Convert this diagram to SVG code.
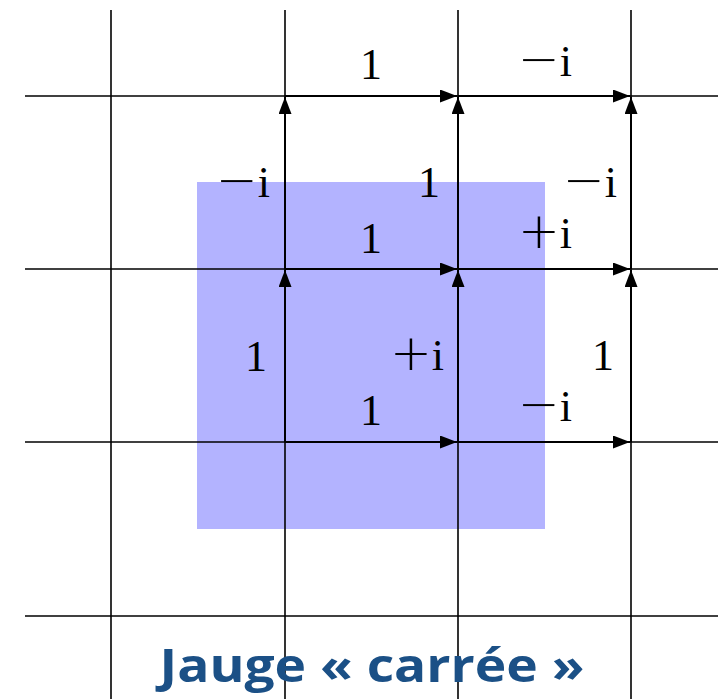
<svg xmlns="http://www.w3.org/2000/svg" width="725" height="699" viewBox="0 0 725 699">
<style>
.grid{stroke:#000;stroke-width:1.6;fill:none}
.arr{stroke:#000;stroke-width:2;fill:none;marker-end:url(#ah)}
.lbl{font-family:"Liberation Serif","DejaVu Serif",serif;font-size:44px;fill:#000;text-anchor:middle}
.op{font-family:"DejaVu Sans",sans-serif;font-size:50px;font-weight:200}
.title{font-family:"Open Sans","Noto Sans",sans-serif;font-weight:bold;font-size:47px;fill:#1b5086;text-anchor:middle}
</style>
<defs>
<marker id="ah" markerUnits="userSpaceOnUse" markerWidth="18" markerHeight="14" refX="17" refY="6.5" orient="auto">
<path d="M0,0 L17,6.5 L0,13 z" fill="#000"/>
</marker>
</defs>
<rect id="square" x="197" y="182" width="348" height="347" fill="#b3b3ff"/>
<g id="grid">
<line class="grid" x1="111" y1="10" x2="111" y2="699"/>
<line class="grid" x1="285" y1="10" x2="285" y2="699"/>
<line class="grid" x1="458" y1="10" x2="458" y2="699"/>
<line class="grid" x1="631" y1="10" x2="631" y2="699"/>
<line class="grid" x1="25" y1="96" x2="718" y2="96"/>
<line class="grid" x1="25" y1="269" x2="718" y2="269"/>
<line class="grid" x1="25" y1="442" x2="718" y2="442"/>
<line class="grid" x1="25" y1="616" x2="718" y2="616"/>
</g>
<g id="connectors">
<line class="arr" x1="285" y1="96" x2="457" y2="96"/>
<line class="arr" x1="458" y1="96" x2="630" y2="96"/>
<line class="arr" x1="285" y1="269" x2="457" y2="269"/>
<line class="arr" x1="458" y1="269" x2="630" y2="269"/>
<line class="arr" x1="285" y1="442" x2="457" y2="442"/>
<line class="arr" x1="458" y1="442" x2="630" y2="442"/>
<line class="arr" x1="285" y1="442" x2="285" y2="270"/>
<line class="arr" x1="285" y1="269" x2="285" y2="97"/>
<line class="arr" x1="458" y1="442" x2="458" y2="270"/>
<line class="arr" x1="458" y1="269" x2="458" y2="97"/>
<line class="arr" x1="631" y1="442" x2="631" y2="270"/>
<line class="arr" x1="631" y1="269" x2="631" y2="97"/>
</g>
<g id="labels">
<text class="lbl" x="371" y="79">1</text>
<text class="lbl" x="545" y="76"><tspan class="op">−</tspan>i</text>
<text class="lbl" x="243" y="197"><tspan class="op">−</tspan>i</text>
<text class="lbl" x="429" y="197">1</text>
<text class="lbl" x="590" y="197"><tspan class="op">−</tspan>i</text>
<text class="lbl" x="371" y="253">1</text>
<text class="lbl" x="545" y="248"><tspan class="op">+</tspan>i</text>
<text class="lbl" x="256" y="371">1</text>
<text class="lbl" x="417" y="370"><tspan class="op">+</tspan>i</text>
<text class="lbl" x="603" y="370">1</text>
<text class="lbl" x="371" y="425">1</text>
<text class="lbl" x="545" y="421"><tspan class="op">−</tspan>i</text>
</g>
<text id="title" class="title" x="372" y="682" textLength="425" lengthAdjust="spacingAndGlyphs">Jauge « carrée »</text>
</svg>
